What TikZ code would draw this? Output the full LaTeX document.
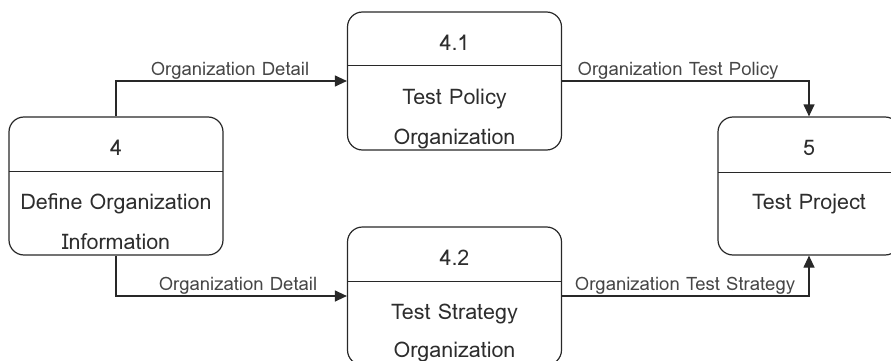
\documentclass[tikz,border=0pt]{standalone}
\usepackage{fontspec}
\setmainfont{Loma}
\usetikzlibrary{arrows.meta}
\definecolor{edge}{RGB}{40,40,40}
\definecolor{txt}{RGB}{45,45,45}
\definecolor{lbl}{RGB}{70,70,70}
\tikzset{
  proc/.style={draw=edge, line width=1.2pt, rounded corners=15pt, minimum width=214pt, minimum height=138pt, inner sep=0pt},
  divline/.style={draw=edge, line width=1pt},
  boxtext/.style={text=txt, font=\fontsize{21.5}{24}\selectfont, inner sep=0pt, anchor=base},
  flowlbl/.style={text=lbl, font=\fontsize{18.5}{21}\selectfont, inner sep=0pt, anchor=base},
  flow/.style={draw=edge, line width=1.2pt, -{Triangle[length=12pt,width=11pt]}}
}
\begin{document}
\begin{tikzpicture}[x=1pt,y=-1pt]
\useasboundingbox (0,0) rectangle (891,361);
\begin{scope}
\clip (0,0) rectangle (891,361);
% boxes
\node[proc] (b4) at (116,186) {};
\node[proc] (b41) at (454.5,81) {};
\node[proc] (b42) at (454.5,296) {};
\node[proc, minimum width=182pt] (b5) at (809,186) {};
% dividers
\draw[divline] (9,171) -- (223,171);
\draw[divline] (347.5,66) -- (561.5,66);
\draw[divline] (347.5,281) -- (561.5,281);
\draw[divline] (718,172) -- (900,172);
% texts
\node[boxtext] (t4a) at (116,155) {4};
\node[boxtext] (t4b) at (116,209) {Define Organization};
\node[boxtext] (t4c) at (116,249) {Information};
\node[boxtext] (t41a) at (454.5,51) {4.1};
\node[boxtext] (t41b) at (454.5,104) {Test Policy};
\node[boxtext] (t41c) at (454.5,144) {Organization};
\node[boxtext] (t42a) at (454.5,265) {4.2};
\node[boxtext] (t42b) at (454.5,319) {Test Strategy};
\node[boxtext] (t42c) at (454.5,357) {Organization};
\node[boxtext] (t5a) at (809,155) {5};
\node[boxtext] (t5b) at (809,209) {Test Project};
% flows
\draw[flow] (b4.north) |- (b41.west);
\draw[flow] (b4.south) |- (b42.west);
\draw[flow] (b41.east) -| (b5.north);
\draw[flow] (b42.east) -| (b5.south);
% labels
\node[flowlbl] (l1) at (230,75) {Organization Detail};
\node[flowlbl] (l2) at (678,75) {Organization Test Policy};
\node[flowlbl] (l3) at (238,290) {Organization Detail};
\node[flowlbl] (l4) at (685,290) {Organization Test Strategy};
\end{scope}
\end{tikzpicture}
\end{document}
